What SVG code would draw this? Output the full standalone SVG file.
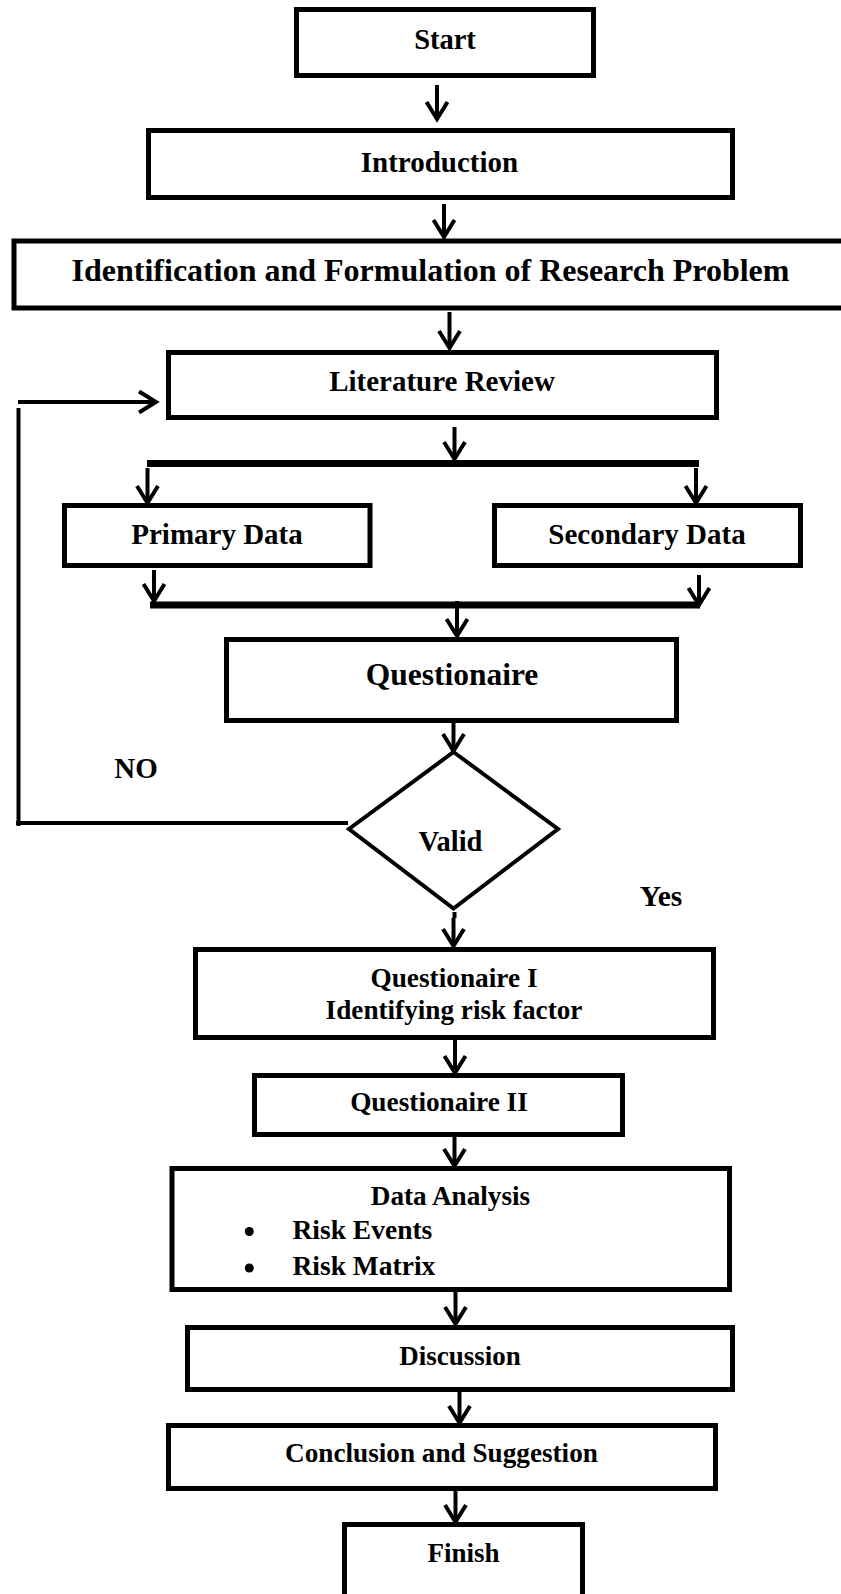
<svg xmlns="http://www.w3.org/2000/svg" width="841" height="1594" viewBox="0 0 841 1594">
<style>
.box{fill:#fff;stroke:#000;stroke-width:5}
.t{font-family:"Liberation Serif","Times New Roman",serif;font-weight:bold;fill:#000;text-anchor:middle}
.l{text-anchor:start}
.c{stroke:#000;stroke-width:4;fill:none}
.bar{stroke:#000;stroke-width:7;fill:none}
</style>
<defs>
<marker id="ah" markerUnits="userSpaceOnUse" viewBox="-20 -13 22 26" markerWidth="22" markerHeight="26" refX="0" refY="0" orient="auto" overflow="visible">
<path d="M-17,-10.5 L0,0 L-17,10.5" fill="none" stroke="#000" stroke-width="4"/>
</marker>
</defs>
<rect width="841" height="1594" fill="#fff"/>
<g id="connectors">
<line class="c" x1="437" y1="85" x2="437" y2="119" marker-end="url(#ah)"/>
<line class="c" x1="444" y1="204" x2="444" y2="237" marker-end="url(#ah)"/>
<line class="c" x1="449.5" y1="312" x2="449.5" y2="348" marker-end="url(#ah)"/>
<line class="c" x1="454.5" y1="427" x2="454.5" y2="459" marker-end="url(#ah)"/>
<line class="bar" x1="147" y1="463.5" x2="699" y2="463.5"/>
<line class="c" x1="147.5" y1="468" x2="147.5" y2="503" marker-end="url(#ah)"/>
<line class="c" x1="696" y1="468" x2="696" y2="503" marker-end="url(#ah)"/>
<line class="c" x1="154" y1="570" x2="154" y2="601" marker-end="url(#ah)"/>
<line class="c" x1="699" y1="575" x2="699" y2="605" marker-end="url(#ah)"/>
<line class="bar" x1="150" y1="605" x2="700" y2="605"/>
<line class="c" x1="457" y1="601" x2="457" y2="636" marker-end="url(#ah)"/>
<line class="c" x1="453.5" y1="723" x2="453.5" y2="751" marker-end="url(#ah)"/>
<line class="c" x1="454.5" y1="912" x2="454.5" y2="918" stroke-width="5"/>
<line class="c" x1="453.5" y1="918" x2="453.5" y2="946" marker-end="url(#ah)"/>
<line class="c" x1="455" y1="1040" x2="455" y2="1073" marker-end="url(#ah)"/>
<line class="c" x1="454.5" y1="1137" x2="454.5" y2="1166" marker-end="url(#ah)"/>
<line class="c" x1="455.5" y1="1292" x2="455.5" y2="1324" marker-end="url(#ah)"/>
<line class="c" x1="459.5" y1="1392" x2="459.5" y2="1423" marker-end="url(#ah)"/>
<line class="c" x1="455.5" y1="1490" x2="455.5" y2="1522" marker-end="url(#ah)"/>
<line class="c" x1="16" y1="823" x2="348" y2="823" stroke-width="6"/>
<line class="c" x1="18.5" y1="408" x2="18.5" y2="826"/>
<line class="c" x1="18" y1="402" x2="156" y2="402" marker-end="url(#ah)"/>
</g>
<g id="start"><rect class="box" x="296.5" y="9.5" width="297" height="66"/><text class="t" x="445" y="49" font-size="28.5">Start</text></g>
<g id="introduction"><rect class="box" x="148.5" y="130.5" width="584" height="67"/><text class="t" x="439.5" y="172" font-size="29">Introduction</text></g>
<g id="identification"><rect class="box" x="14" y="241" width="840" height="67" stroke-width="6"/><text class="t" x="430.5" y="281" font-size="32">Identification and Formulation of Research Problem</text></g>
<g id="literature"><rect class="box" x="168.5" y="352.5" width="548" height="65"/><text class="t" x="442" y="391" font-size="29">Literature Review</text></g>
<g id="primary"><rect class="box" x="64.5" y="505.5" width="305.5" height="60"/><text class="t" x="217" y="544" font-size="29">Primary Data</text></g>
<g id="secondary"><rect class="box" x="494.5" y="505.5" width="306" height="60"/><text class="t" x="647" y="544" font-size="29">Secondary Data</text></g>
<g id="questionaire"><rect class="box" x="226.5" y="639.5" width="450" height="81"/><text class="t" x="452" y="685" font-size="31.5">Questionaire</text></g>
<g id="valid"><polygon points="453.5,752 558,829 453.5,908.5 349,829" fill="#fff" stroke="#000" stroke-width="4"/><text class="t" x="450.5" y="851" font-size="28.5">Valid</text></g>
<g id="label-no"><text class="t" x="136" y="778" font-size="29">NO</text></g>
<g id="label-yes"><text class="t" x="661" y="906" font-size="29.5">Yes</text></g>
<g id="questionaire1"><rect class="box" x="195.5" y="949.5" width="518" height="88"/><text class="t" x="454" y="987" font-size="27.3">Questionaire I</text><text class="t" x="454" y="1018.5" font-size="27.2">Identifying risk factor</text></g>
<g id="questionaire2"><rect class="box" x="254.5" y="1075.5" width="368" height="59"/><text class="t" x="439" y="1111" font-size="27.3">Questionaire II</text></g>
<g id="data-analysis"><rect class="box" x="172" y="1168.5" width="557.5" height="121"/><text class="t" x="450.5" y="1205" font-size="27.2">Data Analysis</text><circle cx="249.3" cy="1231.5" r="4.5"/><circle cx="249.3" cy="1268" r="4.5"/><text class="t l" x="292.5" y="1238.5" font-size="27.5">Risk Events</text><text class="t l" x="292.5" y="1275" font-size="27.5">Risk Matrix</text></g>
<g id="discussion"><rect class="box" x="187.5" y="1327.5" width="545" height="62"/><text class="t" x="460" y="1364.5" font-size="27">Discussion</text></g>
<g id="conclusion"><rect class="box" x="168.5" y="1425.5" width="547" height="63"/><text class="t" x="441.5" y="1462" font-size="27.2">Conclusion and Suggestion</text></g>
<g id="finish"><rect class="box" x="344.5" y="1524.5" width="238" height="100"/><text class="t" x="463.5" y="1562" font-size="27">Finish</text></g>
</svg>
